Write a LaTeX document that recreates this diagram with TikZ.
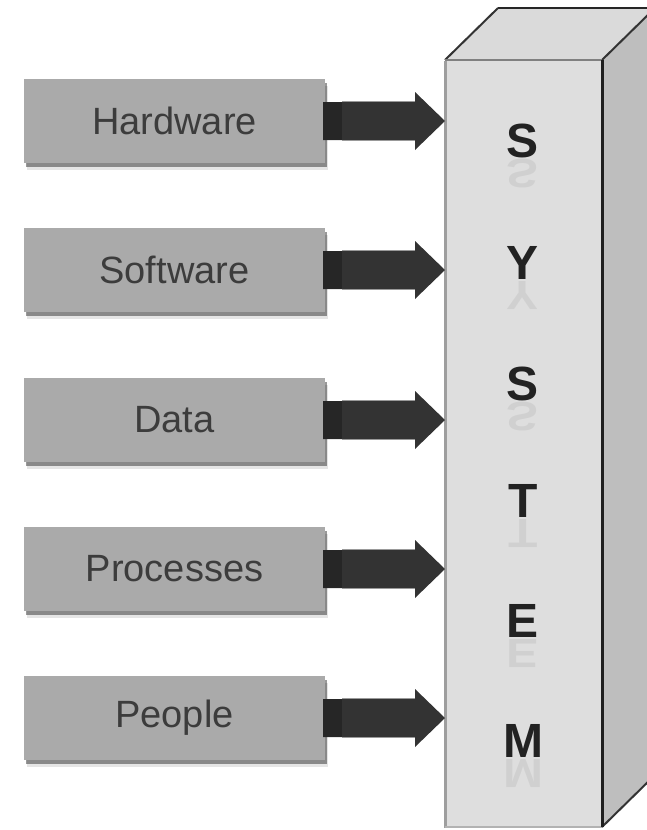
\documentclass[tikz,border=0pt]{standalone}
\usepackage{fontspec}
\setmainfont{Liberation Sans}
\usetikzlibrary{calc,shadows}
\definecolor{boxgray}{HTML}{AAAAAA}
\definecolor{labelgray}{HTML}{3C3C3C}
\definecolor{arrowdark}{HTML}{333333}
\definecolor{frontface}{HTML}{DEDEDE}
\definecolor{topface}{HTML}{DADADA}
\definecolor{sideface}{HTML}{BEBEBE}
\definecolor{lettercol}{HTML}{222222}
\begin{document}
\begin{tikzpicture}[x=1pt,y=-1pt,
  item/.style={fill=boxgray, minimum width=301pt, minimum height=84pt, inner sep=0pt,
    text=labelgray, font=\fontsize{38}{40}\selectfont,
    drop shadow={shadow xshift=3pt, shadow yshift=-7pt, fill=black, opacity=0.10},
    drop shadow={shadow xshift=1.5pt, shadow yshift=-4pt, fill=black, opacity=0.40}},
  fatarrow/.style={fill=arrowdark},
  letter/.style={text=lettercol, font=\fontsize{48}{50}\selectfont\bfseries, inner sep=0pt, anchor=base},
  mirror/.style={text=lettercol, opacity=0.07, font=\fontsize{48}{50}\selectfont\bfseries, inner sep=0pt, anchor=base},
]
\useasboundingbox (0,0) rectangle (647,830);
\clip (0,0) rectangle (647,830);

% ---- the SYSTEM block ----
\coordinate (fl) at (445,60);   % front top-left
\coordinate (fr) at (602,60);   % front top-right
\coordinate (bl) at (445,827);  % front bottom-left
\coordinate (br) at (602,827);  % front bottom-right
\coordinate (d) at (53,-52);    % depth offset

\fill[sideface] (fr) -- ($(fr)+(d)$) -- ($(br)+(d)$) -- (br) -- cycle;
\fill[topface] (fl) -- ($(fl)+(d)$) -- ($(fr)+(d)$) -- (fr) -- cycle;
\fill[frontface] (fl) rectangle (br);
\draw[line width=2pt, black!85] ($(fl)+(d)$) -- ($(fr)+(d)$);
\draw[line width=2pt, black!80] (fl) -- ($(fl)+(d)$);
\draw[line width=2pt, black!80] (fr) -- ($(fr)+(d)$);
\draw[line width=2pt, black!80] (br) -- ($(br)+(d)$);
\draw[line width=2.5pt, black!50] (fl) -- (fr);
\draw[line width=3pt, black!38] ($(fl)+(0,1)$) -- ($(bl)+(0,1)$);
\draw[line width=2pt, black!30] (bl) -- (br);
\draw[line width=3pt, black!88] (fr) -- (br);

% ---- letters with faint reflections ----
\foreach \ch/\yc [count=\i] in {S/140, Y/262, S/383, T/500, E/620, M/740}{
  \node[letter] (l\i) at (523,\yc+17) {\ch};
  \node[mirror] (r\i) at (523,\yc+19) {\scalebox{1}[-0.85]{\ch}};
}

% ---- input boxes and arrows ----
\foreach \name/\txt/\yc in {hw/Hardware/121, sw/Software/270, dt/Data/420, pr/Processes/569, pp/People/718}{
  \node[item] (\name) at (174.5,\yc) {\txt};
  \coordinate (\name tip) at (445,\yc);
  \fill[fatarrow] ($(\name.east)+(-2,-19)$) -- ($(\name tip)+(-30,-19)$) -- ($(\name tip)+(-30,-29)$)
     -- (\name tip) -- ($(\name tip)+(-30,29)$) -- ($(\name tip)+(-30,19)$) -- ($(\name.east)+(-2,19)$) -- cycle;
  \fill[black!85] ($(\name.east)+(-2,-19)$) rectangle ($(\name.east)+(17,19)$);
  \draw[black!40, line width=1.5pt] ($(\name.east)+(17,-19.5)$) -- ($(\name tip)+(-30,-19.5)$);
  \draw[black!40, line width=1.5pt] ($(\name.east)+(17,19.5)$) -- ($(\name tip)+(-30,19.5)$);
}
\end{tikzpicture}
\end{document}
